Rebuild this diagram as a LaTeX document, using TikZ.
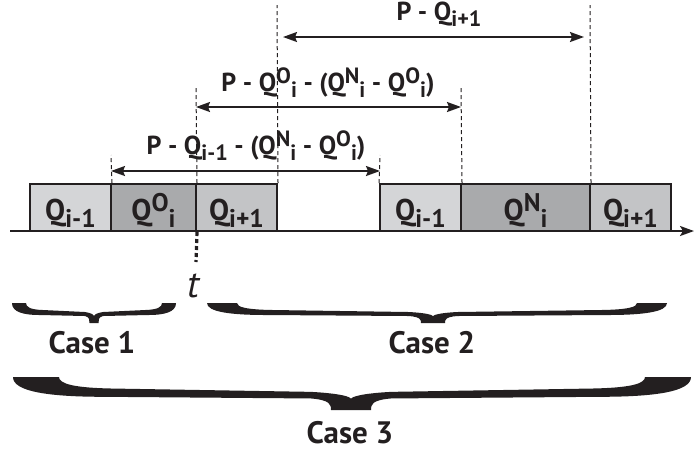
\documentclass[tikz,border=0pt]{standalone}
\usepackage{fontspec}
\setmainfont{PT Sans}
\usetikzlibrary{arrows.meta}
\definecolor{ink}{HTML}{231F20}
\definecolor{lg}{HTML}{D4D5D7}
\definecolor{dg}{HTML}{A9AAAC}
\definecolor{mg}{HTML}{C3C4C6}
\newcommand\subx[1]{\raisebox{-0.5ex}{\scalebox{0.85}{#1}}}
\newcommand\supx[1]{\raisebox{0.6ex}{\scalebox{0.85}{#1}}}
% x1 x2 xm y0 h k wt
\newcommand\tbrace[7]{%
 \fill[ink] (#1,#4) -- ({#1+#6},#4)
  .. controls ({#1+#6},{#4+0.2*#5}) and ({#1+1.3*#6},{#4+0.33*#5}) .. ({#1+2.2*#6},{#4+0.35*#5})
  -- ({#3-2*#7},{#4+0.45*#5})
  .. controls ({#3-0.5*#7},{#4+0.5*#5}) and (#3,{#4+0.6*#5}) .. (#3,{#4+0.67*#5})
  .. controls (#3,{#4+0.6*#5}) and ({#3+0.5*#7},{#4+0.5*#5}) .. ({#3+2*#7},{#4+0.45*#5})
  -- ({#2-2.2*#6},{#4+0.35*#5})
  .. controls ({#2-1.3*#6},{#4+0.33*#5}) and ({#2-#6},{#4+0.2*#5}) .. ({#2-#6},#4)
  -- (#2,#4)
  .. controls (#2,{#4+0.45*#5}) and ({#2-0.8*#6},{#4+0.6*#5}) .. ({#2-2*#6},{#4+0.6*#5})
  -- ({#3+2*#7},{#4+0.65*#5})
  .. controls ({#3+#7},{#4+0.7*#5}) and ({#3+#7},{#4+0.85*#5}) .. ({#3+#7},{#4+#5})
  -- ({#3-#7},{#4+#5})
  .. controls ({#3-#7},{#4+0.85*#5}) and ({#3-#7},{#4+0.7*#5}) .. ({#3-2*#7},{#4+0.65*#5})
  -- ({#1+2*#6},{#4+0.6*#5})
  .. controls ({#1+0.8*#6},{#4+0.6*#5}) and (#1,{#4+0.45*#5}) .. (#1,#4) -- cycle;}
\tikzset{
 box/.style={draw=ink, line width=1pt, minimum height=23.5pt, inner sep=0pt,
   text height=12.5pt, text depth=0pt, text=ink, font=\fontsize{15}{15}\selectfont\bfseries},
 guide/.style={draw=ink, line width=0.5pt, dash pattern=on 2pt off 1.5pt},
 tguide/.style={draw=ink, line width=1.6pt, dash pattern=on 2pt off 1.5pt},
 dim/.style={draw=ink, line width=0.9pt, {Stealth[length=7pt,width=5pt,inset=1pt]}-{Stealth[length=7pt,width=5pt,inset=1pt]}},
 lab/.style={text=ink, font=\fontsize{13}{13}\selectfont\bfseries, inner sep=0pt, anchor=base},
 caselab/.style={text=ink, font=\fontsize{15.5}{15.5}\selectfont\bfseries, inner sep=0pt, anchor=base}
}
\begin{document}
\begin{tikzpicture}[x=0.5pt, y=-0.5pt]
\useasboundingbox (0,0) rectangle (694,452);
% axis
\coordinate (ax0) at (10,231);
\coordinate (ax1) at (694,231);
\draw[ink, line width=1pt, -{Stealth[length=7pt,width=5pt,inset=1.5pt]}] (ax0) -- (ax1);
% boxes
\node[box, fill=lg, minimum width=40.5pt] (a1) at (70.5,207.5) {Q\subx{i-1}};
\node[box, fill=dg, minimum width=42.5pt] (a2) at (153.5,207.5) {Q\supx{O}\subx{i}};
\node[box, fill=mg, minimum width=40.5pt] (a3) at (236.5,207.5) {Q\subx{i+1}};
\node[box, fill=lg, minimum width=40.5pt] (b1) at (420.5,207.5) {Q\subx{i-1}};
\node[box, fill=dg, minimum width=64.5pt] (b2) at (525.5,207.5) {Q\supx{N}\subx{i}};
\node[box, fill=mg, minimum width=40.5pt] (b3) at (630.5,207.5) {Q\subx{i+1}};
% guide tops
\coordinate (ga) at (111,155);
\coordinate (gb) at (380,155);
\coordinate (gc) at (196,88);
\coordinate (gd) at (461,88);
\coordinate (ge) at (277,5);
\coordinate (gf) at (590,5);
\coordinate (tb) at (196,262);
\draw[guide] (a1.north east) -- (ga);
\draw[guide] (b1.north west) -- (gb);
\draw[guide] (a2.north east) -- (gc);
\draw[guide] (b1.north east) -- (gd);
\draw[guide] (a3.north east) -- (ge);
\draw[guide] (b2.north east) -- (gf);
\draw[tguide] (a2.south east) -- (tb);
% dimension arrows
\coordinate (d3l) at (111,171); \coordinate (d3r) at (380,171);
\coordinate (d2l) at (196,107); \coordinate (d2r) at (461,107);
\coordinate (d1l) at (277,37);  \coordinate (d1r) at (590,37);
\draw[dim] (d3l) -- (d3r);
\draw[dim] (d2l) -- (d2r);
\draw[dim, shorten <=3pt, shorten >=3pt] (d1l) -- (d1r);
% labels
\node[lab] (l1) at (439,20) {P - Q\subx{i+1}};
\node[lab] (l2) at (328,91) {P - Q\supx{O}\subx{i} - (Q\supx{N}\subx{i} - Q\supx{O}\subx{i})};
\node[lab] (l3) at (256,154) {P - Q\subx{i-1} - (Q\supx{N}\subx{i} - Q\supx{O}\subx{i})};
\node[text=ink, font=\fontsize{19}{19}\selectfont\itshape, inner sep=0pt, anchor=base] (t) at (193,297) {t};
% braces
\tbrace{12}{176}{94}{303}{20}{14}{4.5}
\tbrace{207}{667}{433}{303}{20}{30}{12}
\tbrace{13}{691}{351}{377}{33}{46}{20}
\node[caselab] (c1) at (92,353) {Case 1};
\node[caselab] (c2) at (432,353) {Case 2};
\node[caselab] (c3) at (350,443) {Case 3};
\end{tikzpicture}
\end{document}
